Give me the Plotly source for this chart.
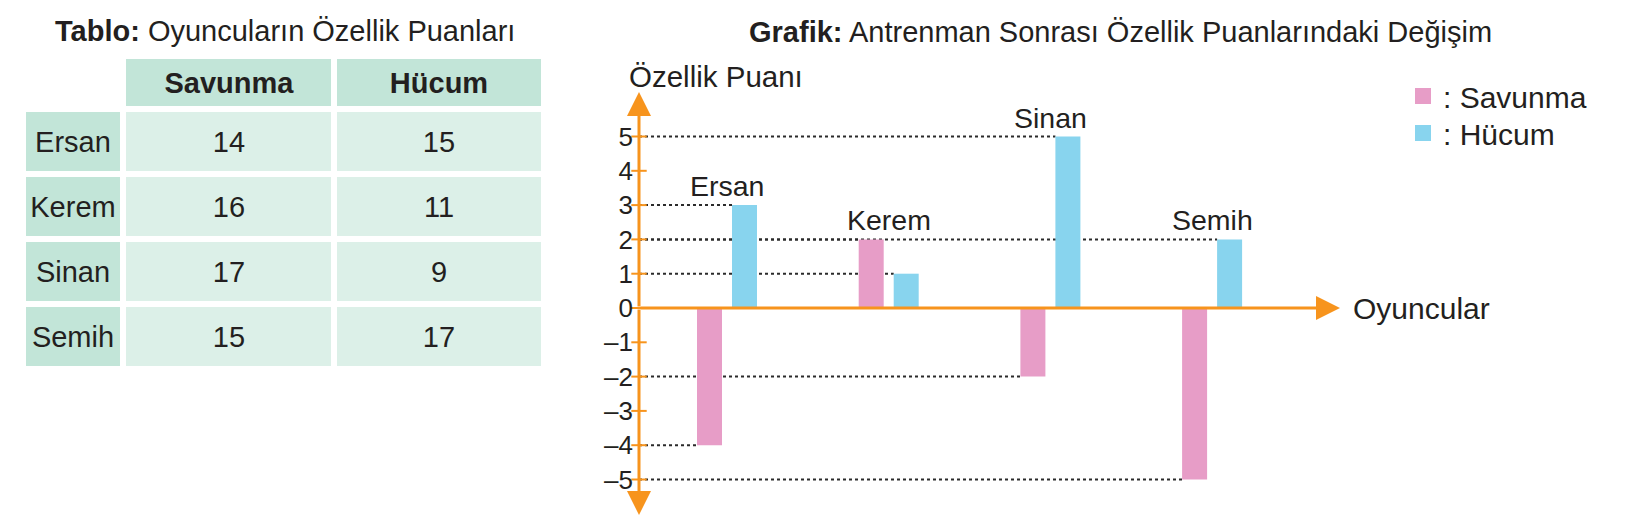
import plotly.graph_objects as go

# ---------------- data ----------------
players = ["Ersan", "Kerem", "Sinan", "Semih"]
table_savunma = [14, 16, 17, 15]
table_hucum = [15, 11, 9, 17]
change_savunma = [-4, 2, -2, -5]
change_hucum = [3, 1, 5, 2]
tick_vals = [-5, -4, -3, -2, -1, 0, 1, 2, 3, 4, 5]
tick_text = ["–5", "–4", "–3", "–2", "–1", "0", "1", "2", "3", "4", "5"]
series_names = ["Savunma", "Hücum"]

# ---------------- style ----------------
W, H = 1627, 530
FONT = "Liberation Sans, Arial, Helvetica, sans-serif"
TXT = "#231F20"
PINK = "#E79DC7"
BLUE = "#88D4EE"
ORANGE = "#F7941D"
G_HEAD = "#C2E5D8"
G_CELL = "#DCF0E8"


def px(x):
    return x / W


def py(y):
    return 1 - y / H


# chart geometry (pixels)
AX_L, AX_R = 639, 1340       # y-axis position, x-arrow tip
AX_T, AX_B = 92, 515         # y-arrow tips
ZERO_Y, UNIT_Y = 308, 34.3
G0, GSTEP = 727, 161.7       # first group centre, group spacing
BAR_W = 25 / GSTEP
OFF_S = -30 / GSTEP
OFF_H = 5 / GSTEP

X0 = (AX_L - G0) / GSTEP
X1 = (AX_R - G0) / GSTEP
Y1 = (ZERO_Y - AX_T) / UNIT_Y
Y0 = -(AX_B - ZERO_Y) / UNIT_Y

xs = list(range(len(players)))

# table geometry (pixels): column widths and row heights incl. white gaps
COL_W = [100, 211, 210]
HEAD_H, ROW_H = 53, 65
TB_L, TB_T = 23, 56
col_edges = [0]
for w in COL_W:
    col_edges.append(col_edges[-1] + w)
row_edges = [HEAD_H + ROW_H * r for r in range(len(players) + 1)]
TB_R = TB_L + col_edges[-1]
TB_B = TB_T + row_edges[-1]

fig = go.Figure()

# ---------------- table (heatmap bricks) ----------------
fig.add_trace(go.Heatmap(
    x=col_edges[1:], y=[0, HEAD_H],
    z=[[0] * len(series_names)],
    text=[series_names], texttemplate="%{text}",
    textfont=dict(family=FONT, size=29, color=TXT, weight="bold"),
    colorscale=[[0, G_HEAD], [1, G_HEAD]], zmin=0, zmax=1, showscale=False,
    xgap=6, ygap=6, hoverinfo="skip", xaxis="x2", yaxis="y2",
))
body_z = [[0] + [1] * len(series_names) for _ in players]
body_text = [[p, str(s), str(h)] for p, s, h in zip(players, table_savunma, table_hucum)]
fig.add_trace(go.Heatmap(
    x=col_edges, y=row_edges,
    z=body_z, text=body_text, texttemplate="%{text}",
    textfont=dict(family=FONT, size=29, color=TXT),
    colorscale=[[0, G_HEAD], [1, G_CELL]], zmin=0, zmax=1, showscale=False,
    xgap=6, ygap=6, hoverinfo="skip", xaxis="x2", yaxis="y2",
))

# ---------------- bars ----------------
fig.add_trace(go.Bar(
    x=xs, y=change_savunma, width=BAR_W, offset=OFF_S,
    marker=dict(color=PINK, line=dict(width=0)), showlegend=False,
    hoverinfo="skip",
))
fig.add_trace(go.Bar(
    x=xs, y=change_hucum, width=BAR_W, offset=OFF_H,
    marker=dict(color=BLUE, line=dict(width=0)), showlegend=False,
    hoverinfo="skip",
))

# legend entries (one legend box per entry for exact placement)
for name, col, lg in zip(series_names, [PINK, BLUE], ["legend", "legend2"]):
    fig.add_trace(go.Scatter(
        x=[None], y=[None], mode="markers", name=": " + name, legend=lg,
        marker=dict(symbol="square", size=18, color=col),
    ))

# tick marks on the y axis
fig.add_trace(go.Scatter(
    x=[X0] * len(tick_vals), y=tick_vals, mode="markers",
    marker=dict(symbol="line-ew", size=11, line=dict(color=ORANGE, width=2)),
    cliponaxis=False, showlegend=False, hoverinfo="skip",
))

shapes = []
# dotted guide lines from the axis to each bar
for vals, off in [(change_savunma, OFF_S), (change_hucum, OFF_H)]:
    for i, v in zip(xs, vals):
        shapes.append(dict(
            type="line", xref="x", yref="y", x0=X0, x1=i + off, y0=v, y1=v,
            line=dict(color="#2b2b2b", width=2, dash="dot"), layer="below",
        ))

annotations = []
# axis arrows
for (tx, ty) in [(X0, Y1), (X0, Y0), (X1, 0)]:
    annotations.append(dict(
        x=tx, y=ty, ax=X0, ay=0, xref="x", yref="y", axref="x", ayref="y",
        text="", showarrow=True, arrowhead=2, arrowsize=1.6, arrowwidth=3,
        arrowcolor=ORANGE,
    ))
# player labels above each group
for i, name in enumerate(players):
    top = max(change_savunma[i], change_hucum[i], 0)
    annotations.append(dict(
        x=i, y=top, xref="x", yref="y", text=name, showarrow=False,
        yanchor="middle", yshift=19, font=dict(family=FONT, size=28.5, color=TXT),
    ))

annotations += [
    dict(x=px(285), y=py(31), xref="paper", yref="paper", showarrow=False,
         text="<b>Tablo:</b> Oyuncuların Özellik Puanları",
         font=dict(family=FONT, size=29, color=TXT), xanchor="center", yanchor="middle"),
    dict(x=px(1120), y=py(32), xref="paper", yref="paper", showarrow=False,
         text="<b>Grafik:</b> Antrenman Sonrası Özellik Puanlarındaki Değişim",
         font=dict(family=FONT, size=29, color=TXT), xanchor="center", yanchor="middle"),
    dict(x=px(627), y=py(77), xref="paper", yref="paper", showarrow=False,
         text="Özellik Puanı",
         font=dict(family=FONT, size=29.5, color=TXT), xanchor="left", yanchor="middle"),
    dict(x=px(1351), y=py(308), xref="paper", yref="paper", showarrow=False,
         text="Oyuncular",
         font=dict(family=FONT, size=30, color=TXT), xanchor="left", yanchor="middle"),
]

legend_style = dict(xanchor="left", yanchor="top",
                    font=dict(family=FONT, size=30, color=TXT),
                    bgcolor="rgba(0,0,0,0)", itemsizing="trace")

fig.update_layout(
    width=W, height=H,
    margin=dict(l=0, r=0, t=0, b=0),
    paper_bgcolor="white", plot_bgcolor="white",
    font=dict(family=FONT, color=TXT),
    barmode="overlay",
    xaxis=dict(domain=[px(AX_L), px(AX_R)], range=[X0, X1], visible=False),
    yaxis=dict(domain=[py(AX_B), py(AX_T)], range=[Y0, Y1],
               tickvals=tick_vals, ticktext=tick_text, ticks="", showgrid=False,
               zeroline=False, showline=False, ticklabelstandoff=5,
               tickfont=dict(family=FONT, size=26, color=TXT)),
    xaxis2=dict(domain=[px(TB_L), px(TB_R)], range=[0, col_edges[-1]],
                visible=False, anchor="y2"),
    yaxis2=dict(domain=[py(TB_B), py(TB_T)], range=[row_edges[-1], 0],
                visible=False, anchor="x2"),
    shapes=shapes,
    annotations=annotations,
    showlegend=True,
    legend=dict(x=px(1403), y=py(70), **legend_style),
    legend2=dict(x=px(1403), y=py(107), **legend_style),
)

fig.write_html("out.html")
